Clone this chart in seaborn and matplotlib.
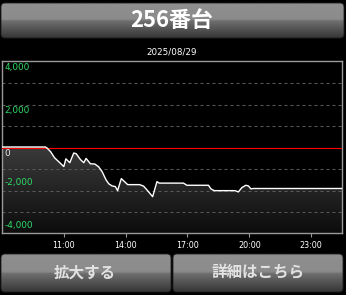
import numpy as np
import pandas as pd
import matplotlib
matplotlib.use("Agg")
import matplotlib.pyplot as plt
import matplotlib.transforms as mtransforms
from matplotlib.patches import FancyBboxPatch
import seaborn as sns

# ---------------- data ----------------
title = "256番台"
date_label = "2025/08/29"
button_labels = ["拡大する", "詳細はこちら"]

hours = [8.0, 10.11, 10.20, 10.36, 10.55, 10.76, 11.00, 11.10, 11.29, 11.48,
         11.60, 11.81, 11.97, 12.08, 12.29, 12.50, 12.69, 12.86, 13.05, 13.18,
         13.34, 13.50, 13.61, 13.79, 13.90, 14.10, 14.68, 14.87, 15.03, 15.31,
         15.52, 15.63, 16.81, 16.97, 18.02, 18.14, 18.30, 19.31, 19.47, 19.64,
         19.83, 19.96, 20.08, 20.19, 24.5]
values = [0, 0, -60, -220, -500, -690, -910, -550, -730, -280,
          -310, -590, -730, -530, -780, -790, -920, -1150, -1530, -1710,
          -1810, -1840, -2030, -1470, -1570, -1750, -1750, -1820, -1990, -2310,
          -1610, -1680, -1680, -1780, -1780, -1950, -2030, -2030, -2090, -1890,
          -1780, -1810, -1950, -1930, -1930]

y_ticks = [4000, 2000, 0, -2000, -4000]
y_tick_labels = ["4,000", "2,000", "0", "-2,000", "-4,000"]
x_ticks = [11, 14, 17, 20, 23]
x_tick_labels = ["11:00", "14:00", "17:00", "20:00", "23:00"]
grid_values = [3000, 2000, 1000, -1000, -2000, -3000]

df = pd.DataFrame({"hour": hours, "value": values})

# ---------------- style ----------------
sns.set_style("dark")
plt.rcParams["font.family"] = ["DejaVu Sans"]
JP = ["Noto Sans CJK JP", "DejaVu Sans"]

W, H = 346, 295
fig = plt.figure(figsize=(W / 100, H / 100), dpi=100, facecolor="black")

# background layer (buttons, header)
bg = fig.add_axes([0, 0, 1, 1])
bg.set_facecolor("black")
bg.axis("off")


def button(x0, y0, x1, y1):
    patch = FancyBboxPatch((x0, y0), x1 - x0, y1 - y0,
                           boxstyle="round,pad=0,rounding_size=4",
                           fc="none", ec="#202020", lw=0.6, zorder=3)
    bg.add_patch(patch)
    t = np.linspace(0, 1, 200)
    col = np.where(t < 0.47, 0.56 - 0.03 * t,
                   np.where(t < 0.5, 0.50, 0.44 - 0.46 * (t - 0.5)))
    img = bg.imshow(col[:, None], cmap="gray", vmin=0, vmax=1,
                    extent=(x0, x1, y1, y0), aspect="auto",
                    interpolation="bilinear", zorder=2)
    img.set_clip_path(patch)


button(1, 3, 344, 38)
button(1, 254, 171, 292)
button(173, 254, 343, 292)

bg.text(172, 20.5, title, ha="center", va="center", fontsize=15.8,
        fontweight="bold", color="white", family=JP, zorder=5)
bg.text(172, 52, date_label, ha="center", va="center", fontsize=6.3,
        color="white", zorder=5)
bg.text(85, 272.5, button_labels[0], ha="center", va="center", fontsize=11.2,
        fontweight="bold", color="#e2e2e2", family=JP, zorder=5)
bg.text(258, 272.5, button_labels[1], ha="center", va="center", fontsize=11.2,
        fontweight="bold", color="#e2e2e2", family=JP, zorder=5)
bg.set_xlim(0, W)
bg.set_ylim(H, 0)

# ---------------- chart ----------------
ax = fig.add_axes([2 / W, 1 - 233 / H, 340 / W, 172 / H])
ax.set_facecolor("black")
ax.grid(False)
xmin, xmax = 8.0, 24.5
ymin, ymax = -4000, 4000

# gradient area under the line
grad = np.linspace(0.23, 0.05, 256)[:, None]
im = ax.imshow(grad, cmap="gray", vmin=0, vmax=1,
               extent=(xmin, xmax, ymin, 0), aspect="auto",
               origin="upper", zorder=1, interpolation="bilinear")
poly = ax.fill_between(df["hour"], df["value"], ymin, color="none", lw=0)
im.set_clip_path(poly.get_paths()[0], transform=ax.transData)

# half-pixel shift so 1px horizontal rules land on a single pixel row
crisp = mtransforms.offset_copy(ax.get_yaxis_transform(), fig=fig,
                                x=0, y=-0.36, units="points")
for g in grid_values:
    ax.plot([0, 1], [g, g], transform=crisp, color="#5a5a5a", lw=0.72,
            ls=(0, (3, 3)), zorder=2)
ax.plot([0, 1], [0, 0], transform=crisp, color="#ff0000", lw=0.8, zorder=3)

sns.lineplot(data=df, x="hour", y="value", ax=ax, color="white",
             lw=1.0, zorder=4)

ax.set_xlim(xmin, xmax)
ax.set_ylim(ymin, ymax)
ax.set_xlabel("")
ax.set_ylabel("")
ax.set_yticks([])
ax.set_xticks(x_ticks)
ax.set_xticklabels(x_tick_labels, color="white", fontsize=5.8)
ax.tick_params(axis="x", length=3, width=0.8, color="#999999", pad=3,
               direction="out", bottom=True)
for s in ax.spines.values():
    s.set_visible(True)
    s.set_color("#9a9a9a")
    s.set_linewidth(1.0)

ytrans = ax.get_yaxis_transform()
for v, lab in zip(y_ticks, y_tick_labels):
    color = "#e6e6f0" if v == 0 else "#2fdc6a"
    if v >= 0:
        tr = mtransforms.offset_copy(ytrans, fig=fig, x=1.5, y=-1.6, units="points")
        ax.text(0.0, v, lab, transform=tr, ha="left", va="top",
                fontsize=6.4, color=color, zorder=6)
    else:
        tr = mtransforms.offset_copy(ytrans, fig=fig, x=1.5, y=3.3, units="points")
        ax.text(0.0, v, lab, transform=tr, ha="left", va="baseline",
                fontsize=6.4, color=color, zorder=6)

fig.savefig("out.png", dpi=100, facecolor="black")
